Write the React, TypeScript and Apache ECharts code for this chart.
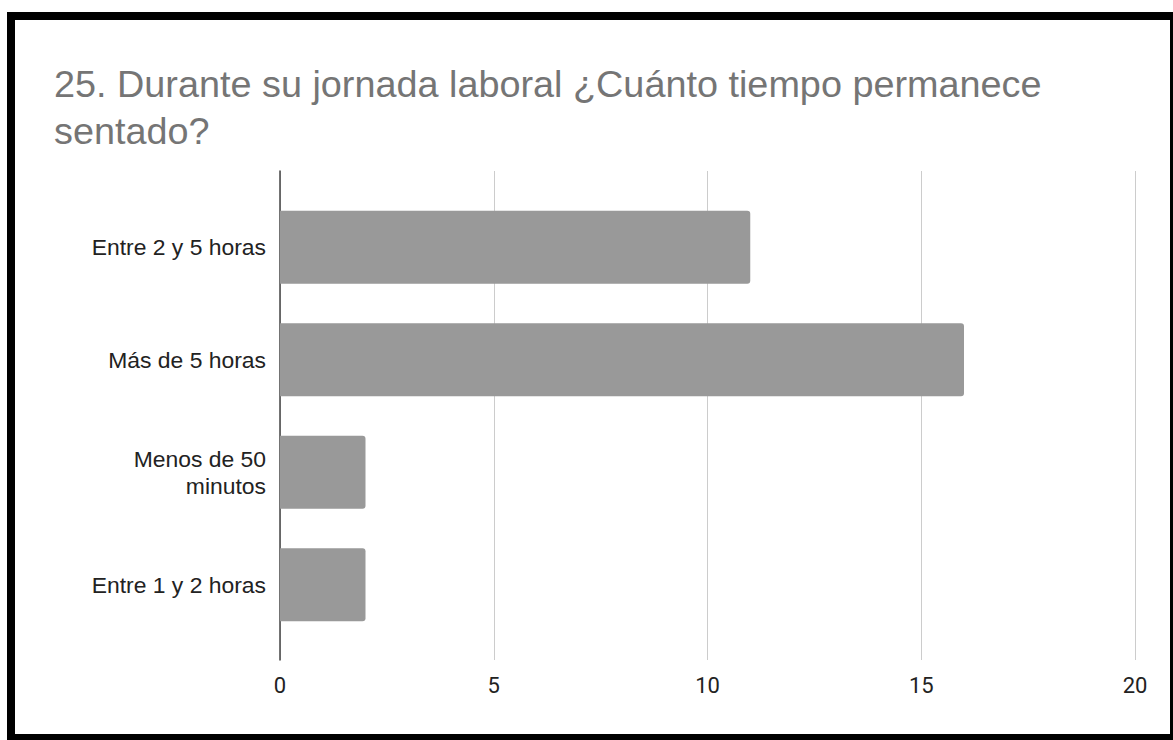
import React, { useEffect, useRef } from "react";
import * as echarts from "echarts";

const titleText = "25. Durante su jornada laboral ¿Cuánto tiempo permanece\nsentado?";
const categories = ["Entre 2 y 5 horas", "Más de 5 horas", "Menos de 50\nminutos", "Entre 1 y 2 horas"];
const values = [11, 16, 2, 2];
const axisMin = 0;
const axisMax = 20;
const axisInterval = 5;

export default function App() {
  const ref = useRef<HTMLDivElement>(null);
  useEffect(() => {
    if (!ref.current) return;
    const chart = echarts.init(ref.current, null, { renderer: "svg" });
    const labelFont = "'Liberation Sans', Arial, sans-serif";
    chart.setOption({
      animation: false,
      backgroundColor: "#ffffff",
      title: {
        text: titleText,
        left: 49,
        top: 55,
        textStyle: {
          fontFamily: "'Liberation Sans', Arial, sans-serif",
          fontSize: 37.8,
          lineHeight: 47,
          fontWeight: "normal",
          color: "#757575",
        },
      },
      graphic: [
        {
          type: "rect",
          shape: { x: 11, y: 16, width: 1163, height: 722 },
          style: { fill: "none", stroke: "#000000", lineWidth: 8 },
          z: 100,
        },
      ],
      grid: [
        { left: 280, width: 855, top: 171, height: 489 },
        { left: 280, width: 855, top: 191, height: 450 },
      ],
      xAxis: [
        {
          type: "value",
          gridIndex: 0,
          min: axisMin,
          max: axisMax,
          interval: axisInterval,
          axisLine: { show: false },
          axisTick: { show: false },
          splitLine: { show: true, lineStyle: { color: "#cccccc", width: 1 } },
          axisLabel: {
            fontFamily: "Roboto, 'Liberation Sans', Arial, sans-serif",
            fontSize: 22,
            color: "#222222",
            margin: 14,
          },
        },
        {
          type: "value",
          gridIndex: 1,
          min: axisMin,
          max: axisMax,
          interval: axisInterval,
          show: false,
        },
      ],
      yAxis: [
        {
          type: "value",
          gridIndex: 0,
          axisLine: { show: true, onZero: false, lineStyle: { color: "#444444", width: 1.5 } },
          axisTick: { show: false },
          axisLabel: { show: false },
          splitLine: { show: false },
        },
        {
          type: "category",
          gridIndex: 1,
          data: categories,
          inverse: true,
          axisLine: { show: false },
          axisTick: { show: false },
          splitLine: { show: false },
          axisLabel: {
            fontFamily: labelFont,
            fontSize: 22.9,
            lineHeight: 27,
            color: "#222222",
            margin: 14,
          },
        },
      ],
      series: [
        {
          type: "bar",
          xAxisIndex: 1,
          yAxisIndex: 1,
          data: values,
          barWidth: 73,
          itemStyle: { color: "#999999", borderRadius: [0, 3, 3, 0] },
          z: 3,
        },
      ],
    });
    return () => chart.dispose();
  }, []);
  return (
    <div
      ref={ref}
      style={{ position: "fixed", left: 0, top: 0, width: 1173, height: 740 }}
    />
  );
}
